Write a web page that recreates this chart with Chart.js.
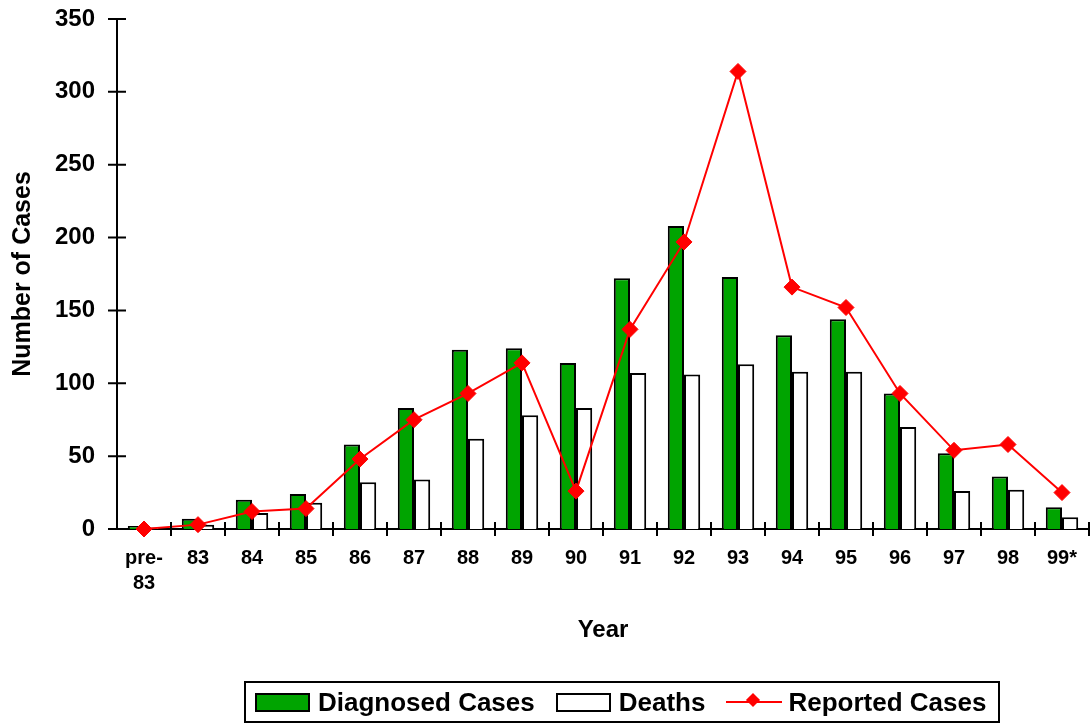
<!DOCTYPE html>
<html>
<head>
<meta charset="utf-8">
<script src="https://cdn.jsdelivr.net/npm/chart.js@4/dist/chart.umd.min.js"></script>
<style>
    body { margin: 0; background: #fff; }
    #wrap { position: relative; width: 1090px; height: 725px; }
    #legendBox {
        position: absolute; left: 244px; top: 681px; width: 756px; height: 42px;
        box-sizing: border-box; border: 2px solid #000;
        display: flex; align-items: center;
        font: bold 26px 'Liberation Sans', Arial, sans-serif; color: #000;
    }
    .sw { width: 51px; height: 15px; border: 2px solid #000; }
    .lineSw { position: relative; width: 56px; height: 2px; background: #f00; }
    .lineSw span {
        position: absolute; left: 22px; top: -6px; width: 10px; height: 10px;
        background: #f00; transform: rotate(45deg);
    }
</style>
</head>
<body>
<div id="wrap">
    <canvas id="casesChart" width="1090" height="725"></canvas>
    <div id="legendBox">
        <div class="sw" style="background:#00a400; margin-left:9px"></div>
        <div style="margin-left:8px">Diagnosed Cases</div>
        <div class="sw" style="background:#fff; margin-left:21px"></div>
        <div style="margin-left:8px">Deaths</div>
        <div class="lineSw" style="margin-left:21px"><span></span></div>
        <div style="margin-left:6px">Reported Cases</div>
    </div>
</div>
<script>
// Data
const years = [['pre-', '83'], '83', '84', '85', '86', '87', '88', '89', '90', '91', '92', '93', '94', '95', '96', '97', '98', '99*'];
const diagnosedCases = [2, 7, 20, 24, 58, 83, 123, 124, 114, 172, 208, 173, 133, 144, 93, 52, 36, 15];
const deaths = [1, 3, 11, 18, 32, 34, 62, 78, 83, 107, 106, 113, 108, 108, 70, 26, 27, 8];
const reportedCases = [0, 3, 12, 14, 48, 75, 93, 114, 26, 137, 197, 314, 166, 152, 93, 54, 58, 25];
const yTicks = [0, 50, 100, 150, 200, 250, 300, 350];

const fontFamily = "'Liberation Sans', Arial, sans-serif";

// Tick marks that cross the axes, like the original
const crossTicks = {
    id: 'crossTicks',
    afterDraw(chart) {
        const ctx = chart.ctx;
        const x = chart.scales.x;
        const y = chart.scales.y;
        ctx.save();
        ctx.strokeStyle = '#000';
        ctx.lineWidth = 2;
        ctx.beginPath();
        yTicks.forEach(v => {
            const py = y.getPixelForValue(v);
            ctx.moveTo(x.left - 9, py);
            ctx.lineTo(x.left + 9, py);
        });
        const step = x.width / years.length;
        for (let i = 1; i <= years.length; i++) {
            const px = x.getPixelForValue(i - 1) + step / 2;
            ctx.moveTo(px, y.bottom - 7);
            ctx.lineTo(px, y.bottom + 7);
        }
        ctx.stroke();
        ctx.restore();
    }
};

function initChart() {
    const ctx = document.getElementById('casesChart').getContext('2d');

    new Chart(ctx, {
        type: 'bar',
        data: {
            labels: years,
            datasets: [
                {
                    type: 'line',
                    label: 'Reported Cases',
                    data: reportedCases,
                    borderColor: '#ff0000',
                    backgroundColor: '#ff0000',
                    borderWidth: 2,
                    pointStyle: 'rectRot',
                    pointRadius: 8,
                    pointBorderWidth: 1,
                    tension: 0,
                    clip: false,
                    order: 0
                },
                {
                    label: 'Diagnosed Cases',
                    data: diagnosedCases,
                    backgroundColor: '#00a400',
                    borderColor: '#000',
                    borderWidth: 2,
                    categoryPercentage: 0.6,
                    barPercentage: 1,
                    order: 1
                },
                {
                    label: 'Deaths',
                    data: deaths,
                    backgroundColor: '#ffffff',
                    borderColor: '#000',
                    borderWidth: 2,
                    categoryPercentage: 0.6,
                    barPercentage: 1,
                    order: 1
                }
            ]
        },
        options: {
            responsive: false,
            animation: false,
            layout: { autoPadding: false, padding: { left: 0, top: 19, right: 1, bottom: 80 } },
            plugins: {
                legend: { display: false },
                tooltip: { enabled: false }
            },
            scales: {
                x: {
                    grid: { display: false, drawTicks: false },
                    border: { color: '#000', width: 2 },
                    ticks: {
                        color: '#000',
                        padding: 17,
                        maxRotation: 0,
                        autoSkip: false,
                        font: { family: fontFamily, size: 20, weight: 'bold', lineHeight: 1.25 }
                    },
                    title: {
                        display: true,
                        text: 'Year',
                        color: '#000',
                        padding: 0,
                        font: { family: fontFamily, size: 24, weight: 'bold' }
                    },
                    afterFit(scale) {
                        scale.height = 116;
                        scale.paddingLeft = 0;
                        scale.paddingRight = 0;
                    }
                },
                y: {
                    min: 0,
                    max: 350,
                    grid: { display: false, drawTicks: false },
                    border: { color: '#000', width: 2 },
                    ticks: {
                        stepSize: 50,
                        color: '#000',
                        padding: 22,
                        font: { family: fontFamily, size: 24, weight: 'bold' }
                    },
                    title: {
                        display: true,
                        text: 'Number of Cases',
                        color: '#000',
                        padding: { top: 8, bottom: 0 },
                        font: { family: fontFamily, size: 25, weight: 'bold' }
                    },
                    afterFit(scale) {
                        scale.width = 117;
                        scale.paddingTop = 0;
                        scale.paddingBottom = 0;
                    }
                }
            }
        },
        plugins: [crossTicks]
    });
}

initChart();
</script>
</body>
</html>
